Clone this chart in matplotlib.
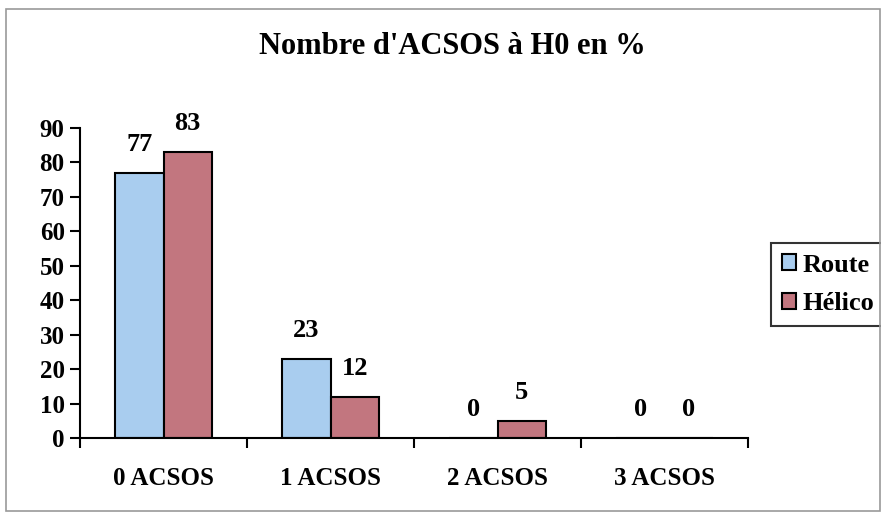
import matplotlib.pyplot as plt
from matplotlib.patches import Rectangle
import numpy as np

categories = ['0 ACSOS', '1 ACSOS', '2 ACSOS', '3 ACSOS']
route = [77, 23, 0, 0]
helico = [83, 12, 5, 0]
series_names = ['Route', 'Hélico']

plt.rcParams['font.family'] = 'Liberation Serif'
plt.rcParams['font.weight'] = 'bold'

fig = plt.figure(figsize=(8.81, 5.19), dpi=100)
W, H = 881, 519

# outer chart frame
fig.patches.append(Rectangle((6 / W, 1 - 511 / H), 874 / W, 502 / H,
                             transform=fig.transFigure, fill=False,
                             edgecolor='#9a9a9a', linewidth=1.2))

ax = fig.add_axes([80 / W, 1 - 438 / H, 668 / W, 310 / H])

x = np.arange(len(categories))
bw = 0.29
b1 = ax.bar(x - bw / 2, route, bw, color='#a9cdef', edgecolor='black',
            linewidth=1.5, label=series_names[0])
b2 = ax.bar(x + bw / 2, helico, bw, color='#c2767f', edgecolor='black',
            linewidth=1.5, label=series_names[1])

for bars, vals in [(b1, route), (b2, helico)]:
    for rect, v in zip(bars, vals):
        ax.annotate(str(v), (rect.get_x() + rect.get_width() / 2, v),
                    xytext=(0, 17), textcoords='offset pixels',
                    ha='center', va='bottom', fontsize=19, fontweight='bold')

ax.set_xlim(-0.5, 3.5)
ax.set_ylim(0, 90)
ax.set_yticks(range(0, 91, 10))
ax.set_xticks(x)
ax.set_xticklabels(categories)
ax.set_xticks(np.arange(-0.5, 3.6, 1), minor=True)
ax.tick_params(axis='x', which='major', length=0, pad=21, labelsize=18)
ax.tick_params(axis='x', which='minor', length=7, width=1.5, direction='out')
ax.tick_params(axis='y', length=7, width=1.5, direction='out', labelsize=18, pad=4)
for lab in ax.get_xticklabels() + ax.get_yticklabels():
    lab.set_fontweight('bold')

for s in ['top', 'right']:
    ax.spines[s].set_visible(False)
for s in ['left', 'bottom']:
    ax.spines[s].set_linewidth(1.5)

fig.text(452 / W, 1 - 47 / H, "Nombre d'ACSOS à H0 en %", ha='center', va='center',
         fontsize=22, fontweight='bold')

leg = ax.legend(loc='upper left', bbox_to_anchor=(771 / W, 1 - 243 / H),
                bbox_transform=fig.transFigure, frameon=True, fancybox=False,
                edgecolor='black', fontsize=19, handlelength=0.55, handleheight=0.55,
                handletextpad=0.25, borderpad=0.4, labelspacing=0.6, borderaxespad=0)
leg.get_frame().set_linewidth(1.5)

fig.savefig('out.png', dpi=100)
